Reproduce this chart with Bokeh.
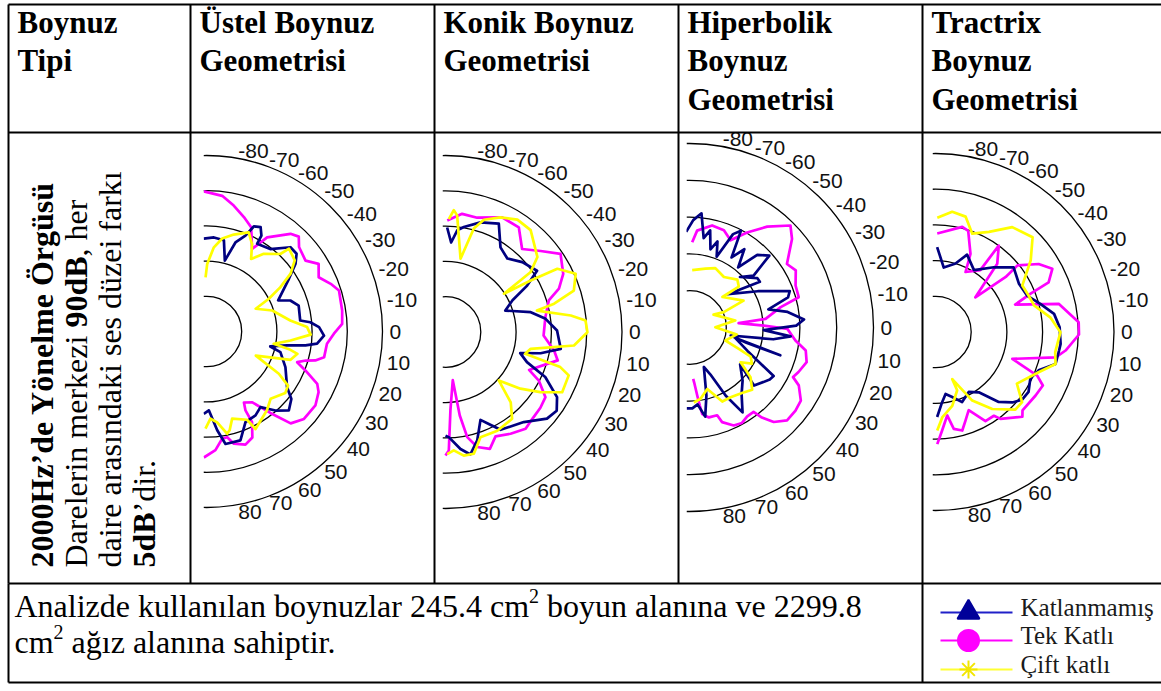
import math
import numpy as np
from bokeh.plotting import figure
from bokeh.models import Range1d
from bokeh.embed import file_html
from bokeh.resources import INLINE
from bokeh.core.properties import value

# ---------------- data ----------------
header_col0 = ["Boynuz", "Tipi"]
horn_titles = [["Üstel Boynuz", "Geometrisi"],
               ["Konik Boynuz", "Geometrisi"],
               ["Hiperbolik", "Boynuz", "Geometrisi"],
               ["Tractrix", "Boynuz", "Geometrisi"]]
series_names = ["Katlanmamış", "Tek Katlı", "Çift katlı"]

angle_ticks = [-80, -70, -60, -50, -40, -30, -20, -10, 0, 10, 20, 30, 40, 50, 60, 70, 80]
angle_tick_labels = [str(a) for a in angle_ticks]
center_level_db = 90
ring_step_db = 5
ring_levels_db = [95, 100, 105, 110, 115]

# Üstel
ustel_tek_deg = [-91.1, -83.4, -77.8, -71.9, -66.8, -61.1, -57.2, -49.3, -45.8, -42.4, -35.6, -31.1, -25.8, -21.0, -17.2, -8.8, -3.2, 1.0, 5.8, 12.4, 14.9, 16.3, 18.7, 21.5, 25.3, 28.4, 34.2, 41.9, 47.5, 51.9, 57.1, 62.2, 63.7, 63.3, 66.6, 71.0, 76.3, 78.9, 81.7, 85.7, 91.2]
ustel_tek_db = [109.9, 109.4, 108.3, 107.1, 106.1, 103.4, 105.9, 108.3, 108.8, 107.8, 107.3, 108.6, 107.7, 108.9, 109.7, 109.5, 109.3, 108.1, 107.2, 107.1, 106.0, 104.7, 103.6, 105.1, 107.4, 108.1, 108.7, 108.6, 107.7, 104.7, 102.0, 101.4, 102.5, 104.4, 106.4, 107.0, 106.4, 105.3, 105.4, 106.9, 107.9]
ustel_katsiz_deg = [-91.7, -85.5, -79.2, -75.5, -72.0, -67.9, -65.7, -62.6, -60.2, -60.0, -52.3, -45.1, -40.8, -37.3, -32.6, -23.5, -20.3, -15.7, -6.7, -5.1, -2.2, 2.0, 6.3, 8.0, 9.8, 13.2, 15.6, 24.3, 34.6, 38.5, 43.8, 48.9, 54.5, 59.7, 66.7, 72.7, 80.4, 83.8, 88.3, 91.9]
ustel_katsiz_db = [103.2, 103.4, 103.2, 100.4, 103.3, 104.7, 106.4, 106.7, 105.7, 104.4, 104.8, 106.9, 106.9, 105.9, 103.9, 101.1, 102.7, 103.6, 103.4, 104.8, 106.0, 106.7, 105.8, 104.2, 101.6, 99.3, 100.9, 102.3, 103.9, 105.4, 106.2, 104.9, 103.2, 103.8, 104.0, 106.2, 106.2, 104.1, 101.2, 101.7]
ustel_cift_deg = [-91.0, -89.4, -85.0, -80.4, -74.3, -66.9, -62.5, -58.4, -53.6, -46.4, -45.1, -38.9, -34.5, -30.9, -27.7, -24.8, -17.7, -7.5, -2.5, 1.7, 6.1, 10.4, 12.3, 13.8, 18.6, 26.1, 30.3, 33.6, 38.0, 46.4, 52.5, 63.3, 65.3, 73.6, 76.8, 78.6, 83.3, 87.4, 90.6]
ustel_cift_db = [97.7, 99.6, 102.0, 103.4, 104.3, 105.3, 104.0, 102.1, 103.7, 105.2, 106.6, 106.1, 104.5, 102.2, 100.0, 97.7, 99.8, 102.0, 104.3, 104.8, 102.0, 99.7, 102.2, 103.3, 102.6, 97.8, 101.9, 103.9, 104.2, 103.2, 104.1, 105.5, 103.8, 102.9, 104.4, 104.8, 103.0, 102.4, 103.8]

# Konik
konik_tek_deg = [-89.1, -82.0, -74.5, -63.7, -55.0, -47.3, -40.4, -34.2, -26.3, -20.9, -17.0, -8.4, 2.1, 9.7, 14.2, 17.4, 24.4, 27.5, 33.1, 38.6, 45.0, 50.4, 57.4, 64.4, 69.2, 74.6, 78.3, 80.3, 81.4, 86.4, 88.4, 90.0]
konik_tek_db = [105.8, 106.9, 106.8, 108.1, 108.1, 106.0, 107.7, 109.7, 108.6, 107.2, 105.3, 104.3, 103.9, 105.6, 106.4, 105.1, 103.0, 104.9, 106.9, 107.2, 107.4, 107.8, 107.1, 106.4, 107.7, 106.9, 105.2, 102.0, 96.9, 101.1, 106.8, 107.5]
konik_katsiz_deg = [-89.1, -86.4, -83.4, -80.1, -72.3, -63.8, -57.0, -49.9, -42.3, -33.8, -29.6, -25.3, -19.7, -13.1, -7.5, -0.8, 8.3, 12.6, 15.8, 20.3, 24.3, 30.3, 35.3, 40.5, 49.0, 60.6, 64.8, 68.3, 73.7, 78.5, 82.7, 88.2, 90.0]
konik_katsiz_db = [104.8, 102.7, 104.5, 105.1, 106.3, 107.1, 104.3, 103.6, 104.7, 105.6, 103.3, 100.5, 99.0, 102.4, 104.3, 105.8, 106.5, 103.8, 101.0, 102.3, 105.5, 108.3, 109.3, 108.9, 106.9, 105.9, 104.4, 103.4, 106.0, 107.7, 106.7, 104.9, 104.7]
konik_cift_deg = [-88.3, -86.1, -84.3, -78.4, -74.7, -71.1, -64.4, -57.4, -50.1, -39.2, -35.1, -33.2, -31.2, -29.5, -24.1, -17.9, -14.6, -13.2, -7.5, -4.7, 0.1, 6.0, 11.2, 15.3, 17.0, 19.4, 27.3, 32.4, 37.1, 42.3, 47.2, 52.5, 62.3, 71.6, 76.9, 81.6, 86.0, 89.2]
konik_cift_db = [106.0, 107.3, 106.6, 100.6, 105.2, 106.8, 108.0, 108.9, 108.8, 106.8, 104.7, 99.9, 104.1, 108.2, 110.2, 109.1, 105.9, 103.3, 107.9, 109.9, 110.1, 108.3, 102.3, 101.7, 107.0, 108.5, 108.6, 105.9, 103.3, 100.2, 103.6, 105.5, 105.8, 105.7, 107.7, 107.7, 106.8, 107.3]

# Hiperbolik
hiper_tek_deg = [-88.2, -85.5, -77.5, -70.5, -64.8, -58.8, -52.4, -45.3, -40.8, -33.1, -28.3, -21.6, -15.5, -12.6, -6.5, -5.0, -1.5, 0.8, 7.0, 11.2, 16.5, 22.2, 25.6, 27.9, 33.3, 38.1, 43.6, 48.3, 51.2, 52.8, 57.0, 61.2, 65.7, 71.0, 72.5, 77.8, 81.6, 82.5, 83.5, 84.9, 85.9]
hiper_tek_db = [101.6, 103.2, 104.2, 104.0, 103.1, 105.1, 107.3, 109.5, 108.4, 105.8, 106.4, 105.5, 105.4, 102.7, 100.4, 96.7, 100.1, 103.3, 104.5, 106.1, 106.6, 106.0, 105.6, 106.8, 108.1, 108.3, 108.3, 107.2, 105.7, 104.4, 104.4, 104.8, 104.6, 103.6, 102.5, 102.5, 101.9, 100.7, 99.3, 97.7, 97.0]
hiper_katsiz_deg = [-92, -88, -84, -81, -78, -75, -72, -69, -65, -62, -59, -55, -51, -47, -42, -39, -45, -36, -33, -41, -28, -20, -17, -13, -9, -4, -1, 2, 5, 8, 11, 15, 17, 13, 22, 30, 33, 42, 36, 45, 52, 58, 62, 66, 70, 76, 80, 84, 88, 92]
hiper_katsiz_db = [103.0, 104.6, 105.6, 102.3, 103.5, 101.0, 102.3, 100.3, 104.0, 104.9, 101.1, 103.0, 100.5, 103.5, 104.6, 101.2, 99.7, 101.4, 101.4, 96.9, 100.5, 104.5, 104.0, 101.0, 103.5, 105.6, 104.5, 100.1, 103.8, 101.5, 95.7, 98.0, 102.9, 96.4, 98.5, 103.2, 103.0, 101.8, 98.5, 100.2, 101.5, 103.6, 100.5, 97.0, 95.7, 99.5, 102.3, 100.5, 101.0, 101.0]
hiper_cift_deg = [-87.3, -74.8, -66.5, -55.7, -45.0, -39.7, -42.8, -26.4, -24.1, -28.1, -8.7, -0.7, 8.3, 19.9, 23.4, 25.4, 30.1, 34.2, 39.2, 44.8, 51.3, 59.5, 66.1, 73.9, 81.2, 86.7]
hiper_cift_db = [97.8, 98.3, 98.8, 98.3, 99.2, 98.7, 96.1, 98.2, 95.1, 93.7, 96.3, 93.5, 96.5, 95.2, 97.3, 99.2, 99.8, 98.4, 100.7, 102.0, 101.4, 101.0, 101.0, 98.7, 99.8, 100.2]

# Tractrix
tract_tek_deg = [-89.0, -75.7, -72.1, -65.9, -63.4, -54.1, -53.8, -47.9, -41.0, -38.1, -39.1, -33.4, -28.4, -23.7, -21.9, -19.0, -12.9, -3.9, 1.0, 8.1, 11.9, 19.3, 23.2, 26.5, 32.4, 42.0, 44.3, 53.2, 55.1, 60.7, 67.0, 71.3, 74.8, 79.3, 82.0, 86.1, 89.1]
tract_tek_db = [103.8, 105.2, 104.9, 102.0, 99.4, 100.7, 105.0, 102.9, 97.4, 102.5, 104.8, 107.3, 108.6, 107.3, 104.3, 101.8, 107.7, 110.1, 110.1, 108.4, 107.2, 101.4, 105.5, 106.8, 106.6, 106.4, 107.0, 105.2, 104.3, 104.3, 101.9, 103.1, 104.3, 103.8, 101.8, 103.8, 105.7]
tract_katsiz_deg = [-88.9, -82.7, -73.7, -67.8, -58.1, -48.0, -39.6, -30.0, -21.7, -15.0, -8.7, -2.2, 5.4, 8.5, 14.9, 20.4, 26.2, 32.8, 38.0, 42.5, 47.9, 54.3, 61.0, 69.2, 75.6, 80.8, 85.2, 88.9]
tract_katsiz_db = [101.9, 99.1, 100.0, 101.7, 100.2, 102.2, 104.2, 103.5, 103.8, 105.2, 106.8, 107.4, 107.6, 107.5, 107.4, 105.4, 104.8, 105.5, 105.4, 104.6, 103.2, 100.4, 99.6, 100.5, 99.4, 98.8, 100.1, 101.9]
tract_cift_deg = [-89.1, -82.1, -75.4, -69.5, -61.9, -53.8, -44.3, -37.0, -28.2, -21.4, -15.1, -7.3, 0.1, 9.5, 14.9, 21.3, 32.4, 39.0, 44.2, 53.6, 61.8, 70.4, 69.6, 77.2, 85.5, 89.0]
tract_cift_db = [106.0, 107.0, 106.7, 104.7, 105.9, 108.2, 109.0, 106.7, 103.8, 104.0, 104.3, 106.2, 107.5, 107.0, 107.4, 105.5, 103.5, 105.6, 105.6, 103.4, 100.9, 97.0, 98.7, 100.6, 102.0, 103.8]

side_lines = [[("2000Hz’de Yönelme Örgüsü", True)],
              [("Darelerin merkezi ", False), ("90dB", True), (", her", False)],
              [("daire arasındaki ses düzei farkı", False)],
              [("5dB", True), ("’dir.", False)]]
note_line1 = ("Analizde kullanılan boynuzlar 245.4 cm", "2", "boyun alanına ve 2299.8")
note_line2 = ("cm", "2", "ağız alanına sahiptir.")

# ---------------- styling / layout ----------------
W, H = 1161, 691
SERIF = "Liberation Serif"
SANS = "Liberation Sans"
C_NAVY, C_MAG, C_YEL = "#000080", "#FF00FF", "#FFFF00"

TR = {' ': 250, ',': 250, '.': 250, '’': 333, 'A': 722, 'D': 722, 'a': 444, 'b': 500, 'c': 444,
      'd': 500, 'e': 444, 'f': 333, 'g': 500, 'h': 500, 'i': 278, 'ı': 278, 'k': 500, 'l': 278,
      'm': 778, 'n': 500, 'o': 500, 'p': 500, 'r': 333, 's': 389, 't': 278, 'u': 500, 'ü': 500,
      'v': 500, 'y': 500, 'z': 444, 'ğ': 500}
TB = {' ': 250, '’': 333, 'H': 778, 'z': 444, 'd': 556, 'e': 444, 'Y': 722, 'ö': 500, 'n': 556,
      'l': 278, 'm': 833, 'Ö': 778, 'r': 444, 'g': 500, 'ü': 556, 's': 389, 'B': 667}


def tw(s, bold, size):
    t = TB if bold else TR
    return sum(t.get(c, 500) for c in s) * size / 1000.0


def Y(py):
    return H - py


p = figure(width=W, height=H, x_range=Range1d(0, W), y_range=Range1d(0, H),
           output_backend="svg", toolbar_location=None, x_axis_type=None, y_axis_type=None,
           min_border=0)
p.grid.visible = False
p.outline_line_color = None
p.background_fill_color = "white"
p.border_fill_color = "white"

col_x = [8, 190, 434, 678, 922]
top_y, head_y, body_y, bot_y = 4, 132, 583, 682

plots = [
    dict(cx=206, cy=331, s=35.2,
         series=[(ustel_tek_deg, ustel_tek_db, C_MAG), (ustel_katsiz_deg, ustel_katsiz_db, C_NAVY),
                 (ustel_cift_deg, ustel_cift_db, C_YEL)]),
    dict(cx=445, cy=331.5, s=35.3,
         series=[(konik_tek_deg, konik_tek_db, C_MAG), (konik_katsiz_deg, konik_katsiz_db, C_NAVY),
                 (konik_cift_deg, konik_cift_db, C_YEL)]),
    dict(cx=689, cy=327, s=36.8,
         series=[(hiper_tek_deg, hiper_tek_db, C_MAG), (hiper_katsiz_deg, hiper_katsiz_db, C_NAVY),
                 (hiper_cift_deg, hiper_cift_db, C_YEL)]),
    dict(cx=935, cy=331.5, s=35.7,
         series=[(tract_tek_deg, tract_tek_db, C_MAG), (tract_katsiz_deg, tract_katsiz_db, C_NAVY),
                 (tract_cift_deg, tract_cift_db, C_YEL)]),
]

CLIP_PX = 3.0
for i, pl in enumerate(plots):
    nm = "polar%d" % i
    cx, cy, s = pl["cx"], pl["cy"], pl["s"]
    p.extra_x_ranges[nm] = Range1d(-cx / s, (W - cx) / s)
    p.extra_y_ranges[nm] = Range1d((cy - H) / s, cy / s)
    radii = [(lv - center_level_db) / ring_step_db for lv in ring_levels_db]
    lim = [math.acos(-CLIP_PX / (s * r)) for r in radii]
    p.arc(x=[0] * len(radii), y=[0] * len(radii), radius=radii,
          start_angle=[-a for a in lim], end_angle=lim,
          line_color="black", line_width=1.3, x_range_name=nm, y_range_name=nm)
    for deg, db, color in pl["series"]:
        r = (np.array(db) - center_level_db) / ring_step_db
        th = np.radians(np.array(deg))
        p.line(r * np.cos(th), -r * np.sin(th), line_color=color, line_width=2.7,
               line_join="round", x_range_name=nm, y_range_name=nm)
    R = radii[-1] + 7.0 / s
    th = np.radians(np.array(angle_ticks, dtype=float))
    p.text(x=R * np.cos(th), y=-R * np.sin(th), text=angle_tick_labels, text_align="left",
           text_baseline="middle", text_font=value(SANS), text_font_size="21px",
           text_color="#111111", x_range_name=nm, y_range_name=nm)
    # clip: the plot area starts just left of the centre
    p.quad(left=col_x[i + 1] + 1.2, right=cx - CLIP_PX, bottom=Y(body_y - 1.2),
           top=Y(head_y + 1.2), fill_color="white", line_color=None)

# header texts
HF = "31px"
line_ys = [22, 60, 99]
for j, t in enumerate(header_col0):
    p.text(x=[col_x[0] + 9], y=[Y(line_ys[j])], text=[t], text_font=value(SERIF),
           text_font_style="bold", text_font_size=HF, text_baseline="middle", text_color="black")
for i, lines in enumerate(horn_titles):
    for j, t in enumerate(lines):
        p.text(x=[col_x[i + 1] + 9], y=[Y(line_ys[j])], text=[t], text_font=value(SERIF),
               text_font_style="bold", text_font_size=HF, text_baseline="middle", text_color="black")

# rotated description
SF = 32
side_x = [41, 75, 109, 143]
for k, segs in enumerate(side_lines):
    ypos = 567.0
    for txt, bold in segs:
        p.text(x=[side_x[k]], y=[Y(ypos)], text=[txt], angle=math.pi / 2, text_align="left",
               text_baseline="middle", text_font=value(SERIF),
               text_font_style="bold" if bold else "normal", text_font_size="%dpx" % SF,
               text_color="black")
        ypos -= tw(txt, bold, SF)

# bottom note
NF = 32
for (a, sup, b), yc in [(note_line1, 605), (note_line2, 641)]:
    x0 = 14
    p.text(x=[x0], y=[Y(yc)], text=[a], text_font=value(SERIF), text_font_size="%dpx" % NF,
           text_baseline="middle", text_color="black")
    x0 += tw(a, False, NF)
    p.text(x=[x0], y=[Y(yc - 10)], text=[sup], text_font=value(SERIF), text_font_size="20px",
           text_baseline="middle", text_color="black")
    x0 += tw(sup, False, 20) + tw(" ", False, NF)
    p.text(x=[x0], y=[Y(yc)], text=[b], text_font=value(SERIF), text_font_size="%dpx" % NF,
           text_baseline="middle", text_color="black")

# legend
leg_y = [612, 640, 669]
leg_line_colors = ["#2020C8", C_MAG, "#FFFF33"]
leg_markers = [("triangle", "#000099", "#000099", 22), ("circle", C_MAG, C_MAG, 21),
               ("asterisk", "#F2E600", "#F2E600", 18)]
for k, name in enumerate(series_names):
    p.segment(x0=[940], y0=[Y(leg_y[k])], x1=[1012], y1=[Y(leg_y[k])],
              line_color=leg_line_colors[k], line_width=2)
    mk, fc, lc, sz = leg_markers[k]
    p.scatter(x=[968], y=[Y(leg_y[k])], marker=mk, size=sz, fill_color=fc, line_color=lc,
              line_width=2)
    p.text(x=[1020], y=[Y(leg_y[k] - 5)], text=[name], text_font=value(SERIF),
           text_font_size="25px", text_baseline="middle", text_color="#1a1a1a")

# table rules
hy = [top_y, head_y, body_y, bot_y]
p.segment(x0=[col_x[0]] * 4, y0=[Y(v) for v in hy], x1=[W + 5] * 4, y1=[Y(v) for v in hy],
          line_color="black", line_width=2)
vx = [col_x[0], col_x[1], col_x[2], col_x[3], col_x[4], col_x[0], col_x[4]]
vy0 = [top_y, top_y, top_y, top_y, top_y, body_y, body_y]
vy1 = [body_y, body_y, body_y, body_y, body_y, bot_y, bot_y]
p.segment(x0=vx, y0=[Y(v) for v in vy0], x1=vx, y1=[Y(v) for v in vy1],
          line_color="black", line_width=2)

open("out.html", "w").write(file_html(p, INLINE))
